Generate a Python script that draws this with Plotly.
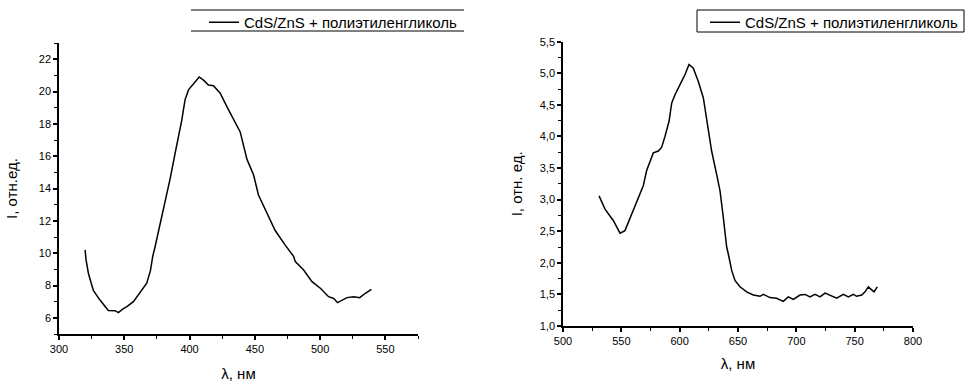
import plotly.graph_objects as go

# Left spectrum, wavelength nm vs intensity
wl_left = [320, 320.7, 322.5, 326.3, 331.4, 337.8, 343, 345.5, 349, 352, 357, 361, 364.7, 367.2,
           370, 371.8, 373.6, 377.5, 381.3, 385.1, 389, 392.8, 394.1, 395.3, 396.6, 399.2, 403,
           407.4, 410.7, 414.5, 418.3, 423.5, 428.6, 433.7, 438.8, 444, 449, 452.8, 459.3, 465.6,
           473.3, 479.7, 481, 487.4, 493.8, 500.2, 506.5, 510.4, 513.4, 516.8, 520.6, 525.7,
           530.3, 534.7, 539.3]
int_left = [10.2, 9.6, 8.76, 7.7, 7.1, 6.46, 6.44, 6.32, 6.55, 6.69, 7.0, 7.45, 7.83, 8.14,
            8.9, 9.8, 10.4, 11.85, 13.1, 14.6, 16.2, 17.6, 18.25, 18.87, 19.5, 20.1, 20.5,
            20.9, 20.7, 20.4, 20.36, 19.9, 19.07, 18.25, 17.5, 15.8, 14.85, 13.6, 12.5, 11.4,
            10.5, 9.8, 9.48, 8.96, 8.24, 7.83, 7.31, 7.2, 6.94, 7.1, 7.25, 7.31, 7.25, 7.52, 7.76]

# Right spectrum
wl_right = [530.9, 536, 543.1, 548.9, 553.1, 557.4, 563.1, 568.8, 571.7, 577.4, 581.7, 584.6,
            587.4, 590.9, 593.2, 596, 600.3, 604.6, 608, 611.7, 616, 620.3, 624.6, 627.4, 631.7,
            634.6, 637.4, 640.3, 641.7, 644.6, 647.4, 651.7, 657.4, 663.1, 668.9, 671.7, 677.4,
            683.1, 688.8, 693.1, 697.4, 703.1, 707.4, 711.7, 716, 720.3, 724.6, 728.9, 734.6,
            740.3, 744.6, 748.9, 751.7, 756, 758.9, 761.7, 764.6, 766.6, 769.4]
int_right = [3.06, 2.85, 2.67, 2.47, 2.51, 2.70, 2.98, 3.22, 3.46, 3.74, 3.77, 3.83,
             4.0, 4.24, 4.53, 4.66, 4.82, 4.98, 5.14, 5.08, 4.87, 4.61, 4.1, 3.77, 3.40,
             3.14, 2.72, 2.25, 2.14, 1.88, 1.72, 1.62, 1.54, 1.49, 1.47, 1.50, 1.45,
             1.44, 1.39, 1.46, 1.42, 1.49, 1.50, 1.46, 1.50, 1.46, 1.52, 1.49, 1.44,
             1.50, 1.46, 1.50, 1.47, 1.49, 1.54, 1.62, 1.57, 1.54, 1.62]

series_name = "CdS/ZnS + полиэтиленгликоль"
ytitle_left = "I, отн.ед."
ytitle_right = "I, отн. ед."
xtitle = "λ, нм"

FONT = "Liberation Sans, Arial, sans-serif"

fig = go.Figure()
fig.add_trace(go.Scatter(x=wl_left, y=int_left, mode="lines", name=series_name,
                         line=dict(color="black", width=1.5), xaxis="x", yaxis="y",
                         legend="legend"))
fig.add_trace(go.Scatter(x=wl_right, y=int_right, mode="lines", name=series_name,
                         line=dict(color="black", width=1.5), xaxis="x2", yaxis="y2",
                         legend="legend2"))

W, H = 975, 387

def axis_common():
    return dict(showline=True, linecolor="black", linewidth=1.5, ticks="outside",
                ticklen=4, tickwidth=1.5, tickcolor="black", showgrid=False, zeroline=False,
                automargin=False,
                tickfont=dict(size=11, family=FONT, color="black"),
                title_font=dict(size=15, family=FONT, color="black"), mirror=False)

minor_kw = dict(ticks="outside", ticklen=3, tickcolor="black", tickwidth=1.2)

xa = axis_common()
xa.update(domain=[59 / W, 418 / W], range=[300, 575], dtick=50, tick0=0, anchor="y",
          minor=dict(dtick=25, **minor_kw),
          title=dict(text=xtitle, standoff=15))
ya = axis_common()
ya.update(domain=[1 - 334 / H, 1 - 43 / H], range=[5, 23], dtick=2, tick0=0, anchor="x",
          minor=dict(dtick=1, **minor_kw),
          title=dict(text=ytitle_left, standoff=18))
xa2 = axis_common()
xa2.update(domain=[563 / W, 913 / W], range=[500, 800], dtick=50, tick0=0, anchor="y2",
           minor=dict(dtick=25, **minor_kw),
           title=dict(text=xtitle, standoff=13))
ya2 = axis_common()
ya2.update(domain=[1 - 326 / H, 1 - 41.7 / H], range=[1.0, 5.5], dtick=0.5, tick0=0,
           anchor="x2", tickformat=".1f",
           minor=dict(dtick=0.25, **minor_kw),
           title=dict(text=ytitle_right, standoff=13))

legend_common = dict(yanchor="top", xanchor="right", bgcolor="rgba(0,0,0,0)", borderwidth=0,
                     font=dict(size=15, family=FONT, color="black"),
                     itemwidth=30, tracegroupgap=0)

def hline(x0, x1, y):
    return dict(type="line", xref="paper", yref="paper", x0=x0 / W, x1=x1 / W,
                y0=1 - y / H, y1=1 - y / H, line=dict(color="black", width=1))

fig.update_layout(
    width=W, height=H, margin=dict(l=0, r=0, t=0, b=0, autoexpand=False),
    paper_bgcolor="white", plot_bgcolor="white",
    separators=", ",
    font=dict(family=FONT, color="black"),
    xaxis=xa, yaxis=ya, xaxis2=xa2, yaxis2=ya2,
    legend=dict(x=462 / W, y=1 - 6 / H, **legend_common),
    legend2=dict(x=963 / W, y=1 - 6 / H, **legend_common),
    showlegend=True,
    shapes=[
        hline(191, 464, 10),
        hline(191, 464, 31),
        dict(type="rect", xref="paper", yref="paper", x0=697 / W, x1=964 / W,
             y0=1 - 32 / H, y1=1 - 10 / H, line=dict(color="black", width=1)),
    ],
)

fig.write_html("out.html", config={"displayModeBar": False},
               post_script="document.body.style.margin='0px';")
